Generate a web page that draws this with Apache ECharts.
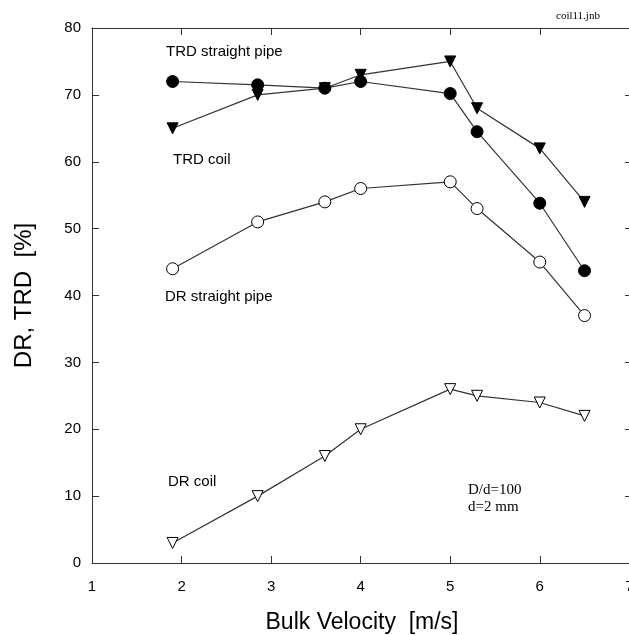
<!DOCTYPE html>
<html><head><meta charset="utf-8">
<script src="https://cdn.jsdelivr.net/npm/echarts@6/dist/echarts.min.js"></script>
<style>html,body{margin:0;padding:0;background:#fff;overflow:hidden}#c{width:629px;height:635px}</style>
</head><body><div id="c"></div>
<script>
const velocity = [1.9, 2.85, 3.6, 4.0, 5.0, 5.3, 6.0, 6.5];
const trdStraight = [72, 71.5, 71, 72, 70.2, 64.5, 53.8, 43.7];
const trdCoil = [65, 70, 71, 73, 75, 68, 62, 54];
const drStraight = [44, 51, 54, 56, 57, 53, 45, 37];
const drCoil = [3, 10, 16, 20, 26, 25, 24, 22];
const xTicks = [1, 2, 3, 4, 5, 6, 7];
const yTicks = [0, 10, 20, 30, 40, 50, 60, 70, 80];

const pair = v => velocity.map((x, i) => [x, v[i]]);
const sans = 'Liberation Sans, Arial, Helvetica, sans-serif';
const serif = 'Liberation Serif, Times New Roman, serif';
const lineCol = '#333';

function mk(name, data, symbol, filled, size, rot) {
  return {
    name, type: 'line', data: pair(data), symbol, symbolSize: size, symbolRotate: rot || 0,
    lineStyle: { color: lineCol, width: 1.2 },
    itemStyle: { color: filled ? '#000' : '#fff', borderColor: '#000', borderWidth: 1 },
    animation: false, z: 3
  };
}
const aLine = () => ({ show: true, onZero: false, lineStyle: { color: lineCol, width: 1 } });
const aTick = () => ({ show: true, inside: true, length: 7, lineStyle: { color: lineCol, width: 1 } });

const chart = echarts.init(document.getElementById('c'));
chart.setOption({
  animation: false,
  grid: { left: 92, width: 540, top: 28, height: 535, containLabel: false, outerBoundsMode: 'none' },
  xAxis: [
    {
      type: 'value', min: 1, max: 7.03, interval: 1, position: 'bottom',
      axisLine: aLine(), axisTick: aTick(), splitLine: { show: false },
      name: 'Bulk Velocity  [m/s]', nameLocation: 'middle', nameGap: 48,
      nameTextStyle: { fontFamily: sans, fontSize: 23, color: '#000' },
      axisLabel: { fontFamily: sans, fontSize: 15, color: '#000', margin: 16,
        formatter: v => xTicks.includes(v) ? String(v) : '' }
    },
    {
      type: 'value', min: 1, max: 7.03, interval: 1, position: 'top',
      axisLine: aLine(), axisTick: aTick(), splitLine: { show: false },
      axisLabel: { show: false }
    }
  ],
  yAxis: [
    {
      type: 'value', min: 0, max: 80, interval: 10, position: 'left',
      name: 'DR, TRD  [%]', nameLocation: 'middle', nameGap: 56,
      nameTextStyle: { fontFamily: sans, fontSize: 24, color: '#000' },
      axisLine: aLine(), axisTick: aTick(),
      axisLabel: { fontFamily: sans, fontSize: 15, color: '#000', margin: 11,
        formatter: v => yTicks.includes(v) ? String(v) : '' },
      splitLine: { show: false }
    },
    {
      type: 'value', min: 0, max: 80, interval: 10, position: 'right',
      axisLine: aLine(), axisTick: aTick(),
      axisLabel: { show: false }, splitLine: { show: false }
    }
  ],
  series: [
    mk('TRD straight pipe', trdStraight, 'circle', true, 12),
    mk('TRD coil', trdCoil, 'triangle', true, 11, 180),
    mk('DR straight pipe', drStraight, 'circle', false, 12),
    mk('DR coil', drCoil, 'triangle', false, 11, 180)
  ],
  graphic: [
    { type: 'text', left: 166, top: 44, style: { text: 'TRD straight pipe', font: '15px ' + sans, fill: '#000' } },
    { type: 'text', left: 173, top: 152, style: { text: 'TRD coil', font: '15px ' + sans, fill: '#000' } },
    { type: 'text', left: 165, top: 289, style: { text: 'DR straight pipe', font: '15px ' + sans, fill: '#000' } },
    { type: 'text', left: 168, top: 474, style: { text: 'DR coil', font: '15px ' + sans, fill: '#000' } },
    { type: 'text', left: 468, top: 483, style: { text: 'D/d=100', font: '15px ' + serif, fill: '#000' } },
    { type: 'text', left: 468, top: 500, style: { text: 'd=2 mm', font: '15px ' + serif, fill: '#000' } },
    { type: 'text', left: 556, top: 11, style: { text: 'coil11.jnb', font: '11px ' + serif, fill: '#000' } }
  ]
});
</script></body></html>
